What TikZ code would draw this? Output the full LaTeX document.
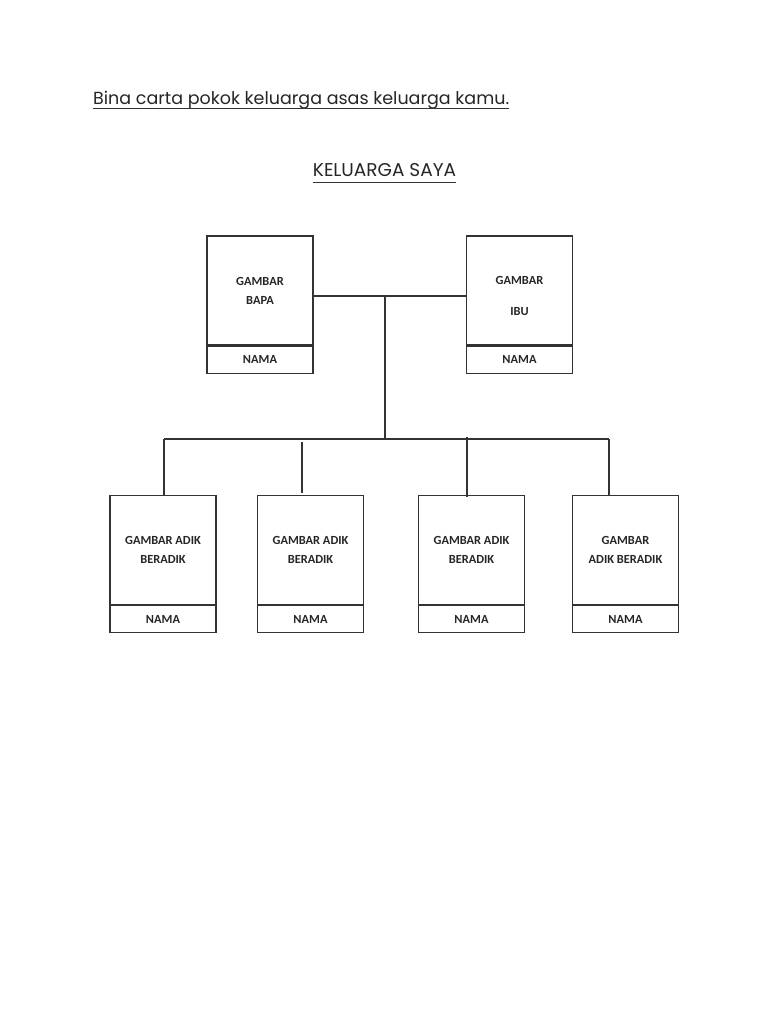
\documentclass[tikz,border=0pt]{standalone}
\usepackage{fontspec}
\setmainfont{Carlito}
\newfontfamily\titlefont{Poppins}
\begin{document}
\begin{tikzpicture}[x=1pt,y=-1pt,
  line/.style={draw=black!80,line width=1.25pt},
  picbox/.style={line,minimum width=106pt,minimum height=109pt,inner sep=0pt,align=center,
     font=\fontsize{12.4}{19}\selectfont\bfseries,text=black!85},
  namebox/.style={line,minimum width=106pt,minimum height=27pt,inner sep=0pt,
     font=\fontsize{12.4}{13}\selectfont\bfseries,text=black!85},
  ttl/.style={inner sep=0pt,text=black!85}]
\useasboundingbox[fill=white] (0,0) rectangle (768,1024);
% titles
\node[ttl,anchor=base west,font=\titlefont\fontsize{17.5}{20}\selectfont] (t1) at (93,105) {Bina carta pokok keluarga asas keluarga kamu.};
\draw[black!80,line width=0.9pt] ([yshift=-3.5]t1.base west) -- ([yshift=-3.5]t1.base east);
\node[ttl,anchor=base,font=\titlefont\fontsize{18.5}{20}\selectfont] (t2) at (384.5,177) {KELUARGA SAYA};
\draw[black!80,line width=0.9pt] ([yshift=-5]t2.base west) -- ([yshift=-5]t2.base east);
% parents
\node[picbox] (bapa) at (260,290.5) {GAMBAR\\BAPA};
\node[namebox,anchor=north] (bapaN) at (bapa.south) {NAMA};
\node[picbox] (ibu) at (519.5,290.5) {};
\node[inner sep=0pt,align=center,font=\fontsize{12.4}{19}\selectfont\bfseries,text=black!85] (ibuT) at (519.5,295.5) {GAMBAR\\[12pt]IBU};
\node[namebox,anchor=north] (ibuN) at (ibu.south) {NAMA};
% children
\node[picbox] (k1) at (163,550) {GAMBAR ADIK\\BERADIK};
\node[namebox,anchor=north] (k1N) at (k1.south) {NAMA};
\node[picbox] (k2) at (310.5,550) {GAMBAR ADIK\\BERADIK};
\node[namebox,anchor=north] (k2N) at (k2.south) {NAMA};
\node[picbox] (k3) at (471.5,550) {GAMBAR ADIK\\BERADIK};
\node[namebox,anchor=north] (k3N) at (k3.south) {NAMA};
\node[picbox] (k4) at (625.5,550) {GAMBAR\\ADIK BERADIK};
\node[namebox,anchor=north] (k4N) at (k4.south) {NAMA};
% connectors
\coordinate (jp) at (385,296);
\coordinate (barL) at (164,439);
\coordinate (barR) at (609,439);
\coordinate (d2) at (302,442);
\coordinate (d3) at (467,437);
\draw[line] (bapa.east |- jp) -- (ibu.west |- jp);
\draw[line] (jp) -- (jp |- barL);
\draw[line] (barL) -- (barR);
\draw[line] (barL) -- (barL |- k1.north);
\draw[line] (d2) -- ([yshift=2]d2 |- k2.north);
\draw[line] (d3) -- ([yshift=-2]d3 |- k3.north);
\draw[line] (barR) -- (barR |- k4.north);
\end{tikzpicture}
\end{document}
